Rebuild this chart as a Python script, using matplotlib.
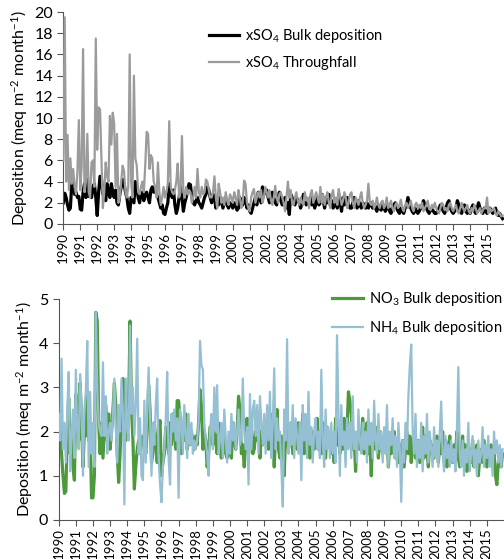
import matplotlib
matplotlib.use('Agg')
import matplotlib.pyplot as plt
import numpy as np

plt.rcParams['font.family'] = ['Lato', 'DejaVu Sans']
plt.rcParams['mathtext.default'] = 'regular'

# monthly values, Jan 1990 - Dec 2015
so4_bulk = [
    2.0, 2.9, 2.5, 1.8, 1.3, 1.5, 3.8, 4.2, 2.8, 3.0, 2.5, 2.6,
    1.4, 1.3, 3.0, 3.8, 2.5, 4.2, 2.6, 3.0, 2.5, 3.5, 3.8, 2.5,
    0.8, 3.0, 4.5, 4.3, 2.8, 3.5, 2.2, 3.8, 3.0, 2.5, 3.8, 3.0,
    2.5, 3.2, 2.0, 1.8, 2.8, 3.5, 4.2, 3.8, 3.0, 2.5, 1.5, 1.0,
    2.5, 2.2, 2.0, 4.0, 3.5, 2.5, 2.0, 2.8, 3.0, 2.2, 2.8, 3.0,
    2.5, 2.0, 3.2, 3.5, 3.0, 3.5, 2.8, 2.5, 2.0, 1.5, 1.8, 1.0,
    0.9, 1.5, 2.0, 3.8, 3.0, 2.5, 3.2, 1.8, 1.0, 1.5, 2.5, 3.5,
    2.5, 1.2, 2.0, 2.5, 3.2, 3.8, 3.7, 2.5, 2.0, 1.8, 2.2, 2.5,
    2.0, 1.8, 1.5, 2.0, 2.5, 2.8, 3.5, 3.2, 2.5, 2.0, 2.8, 2.5,
    1.5, 2.0, 1.8, 2.5, 2.2, 1.5, 2.0, 2.5, 1.8, 1.5, 2.0, 1.8,
    1.5, 2.0, 1.8, 1.3, 1.5, 2.5, 2.0, 1.8, 2.5, 2.2, 1.5, 1.8,
    1.2, 1.0, 1.5, 2.0, 2.5, 1.8, 3.0, 2.5, 2.0, 3.5, 2.8, 3.0,
    3.2, 2.5, 2.0, 2.8, 3.0, 2.5, 2.0, 1.8, 2.5, 3.0, 2.2, 1.8,
    2.0, 2.5, 1.5, 2.0, 0.9, 2.8, 2.5, 2.0, 1.8, 2.5, 2.2, 2.0,
    1.5, 2.0, 2.8, 2.5, 1.8, 2.2, 2.0, 2.5, 1.8, 2.2, 1.5, 2.0,
    2.5, 1.8, 2.0, 2.8, 2.2, 1.5, 2.5, 2.0, 2.8, 1.8, 2.2, 1.5,
    1.8, 2.2, 1.5, 2.8, 2.0, 1.2, 2.5, 1.8, 2.2, 2.5, 1.8, 1.5,
    1.5, 2.0, 2.5, 1.8, 1.5, 2.2, 1.8, 1.5, 2.0, 1.8, 1.5, 2.0,
    1.5, 1.8, 2.0, 1.5, 1.8, 1.5, 1.2, 1.8, 1.5, 1.3, 1.8, 1.5,
    1.2, 1.5, 1.8, 1.2, 1.0, 1.5, 1.8, 2.0, 1.5, 1.2, 1.0, 1.5,
    1.2, 1.0, 1.5, 1.8, 2.5, 2.0, 1.5, 1.2, 1.0, 1.5, 1.2, 1.0,
    1.2, 1.5, 1.8, 2.2, 1.8, 1.5, 1.2, 1.0, 1.3, 1.5, 1.2, 1.0,
    1.0, 1.2, 1.5, 1.8, 1.5, 1.2, 1.0, 1.5, 2.0, 2.2, 1.5, 1.2,
    1.0, 1.2, 1.5, 2.2, 1.8, 1.2, 1.0, 1.5, 1.8, 1.2, 1.0, 1.3,
    1.0, 1.5, 1.8, 1.2, 1.0, 1.5, 2.0, 1.5, 1.2, 1.0, 1.5, 1.2,
    1.0, 1.2, 1.5, 1.3, 1.0, 1.2, 1.5, 1.0, 0.8, 1.0, 0.7, 0.5,
]

so4_throughfall = [
    6.0, 19.5, 4.0, 8.4, 3.2, 6.2, 3.8, 5.2, 3.5, 2.8, 5.0, 9.8,
    3.2, 5.5, 16.5, 3.0, 4.0, 8.5, 3.0, 2.5, 5.8, 6.0, 3.5, 17.5,
    7.0, 11.0, 10.8, 6.0, 1.5, 3.0, 5.8, 4.5, 4.0, 10.2, 7.5, 10.5,
    9.5, 3.5, 8.5, 2.0, 2.5, 4.0, 5.5, 5.0, 3.0, 2.5, 3.5, 16.0,
    4.0, 2.5, 14.0, 6.2, 5.5, 3.0, 2.8, 3.5, 4.0, 3.0, 5.5, 8.7,
    8.5, 5.2, 6.5, 6.2, 4.0, 3.5, 2.5, 5.8, 3.0, 1.8, 2.5, 3.5,
    2.5, 3.0, 3.8, 9.7, 3.5, 3.0, 2.8, 3.2, 4.0, 5.7, 2.5, 3.0,
    8.3, 3.0, 2.5, 3.5, 2.8, 3.2, 3.0, 2.0, 2.5, 3.5, 2.5, 5.2,
    3.0, 2.5, 3.5, 2.8, 3.0, 4.2, 4.0, 3.2, 2.5, 2.5, 3.0, 4.5,
    2.5, 1.5, 3.8, 3.0, 2.0, 2.5, 1.8, 3.0, 2.2, 1.8, 2.8, 2.5,
    2.0, 3.0, 2.5, 1.8, 3.2, 2.5, 1.5, 2.0, 4.1, 3.8, 2.0, 1.5,
    1.2, 2.5, 3.0, 3.3, 2.0, 2.5, 3.0, 2.5, 3.2, 2.0, 2.5, 3.5,
    3.0, 2.5, 3.2, 2.2, 1.8, 2.5, 3.6, 2.5, 2.0, 2.8, 3.0, 2.5,
    2.0, 1.2, 2.5, 4.0, 2.5, 3.2, 2.0, 1.8, 2.5, 3.0, 2.2, 1.8,
    2.5, 2.0, 1.8, 3.0, 2.2, 2.5, 1.5, 2.8, 3.2, 2.0, 2.5, 3.0,
    2.5, 2.0, 3.5, 2.0, 2.8, 1.8, 2.5, 3.0, 2.0, 1.5, 2.8, 3.2,
    2.0, 2.5, 1.8, 3.3, 2.5, 1.8, 2.2, 3.0, 2.5, 1.5, 2.0, 2.8,
    3.0, 2.0, 1.5, 2.5, 2.2, 1.8, 2.5, 3.0, 2.0, 1.5, 1.8, 2.2,
    3.8, 2.0, 1.8, 2.2, 1.5, 1.8, 2.5, 1.8, 1.5, 2.0, 2.2, 1.5,
    1.8, 2.5, 1.5, 1.8, 2.2, 1.5, 1.2, 1.8, 2.0, 1.5, 1.8, 2.3,
    1.5, 1.2, 1.8, 2.0, 1.5, 1.8, 2.2, 1.5, 1.2, 1.8, 2.0, 1.5,
    1.8, 1.5, 2.0, 1.2, 1.5, 1.8, 2.2, 1.5, 1.3, 1.8, 1.5, 2.0,
    1.5, 1.2, 1.0, 1.5, 2.0, 1.8, 1.3, 1.5, 1.2, 1.8, 2.0, 1.5,
    1.2, 1.5, 1.8, 1.2, 1.0, 1.5, 2.0, 1.5, 1.2, 1.5, 1.8, 1.2,
    1.0, 1.5, 1.2, 1.8, 1.5, 1.0, 1.2, 1.5, 1.0, 1.3, 1.5, 1.5,
    2.5, 1.0, 1.5, 1.2, 1.3, 1.5, 1.0, 0.8, 1.2, 1.0, 0.7, 0.8,
]

no3_bulk = [
    2.45, 2.2, 1.5, 1.0, 0.6, 0.65, 2.0, 2.75, 1.5, 1.9, 1.2, 0.9,
    2.85, 2.5, 1.8, 3.1, 2.2, 1.2, 2.0, 1.9, 2.8, 1.8, 2.1, 0.5,
    0.5, 1.0, 4.7, 4.5, 2.2, 1.5, 2.2, 1.4, 2.0, 2.6, 1.8, 2.4,
    1.6, 2.0, 2.5, 3.1, 2.6, 1.5, 0.85, 1.5, 2.5, 3.2, 2.2, 1.8,
    2.3, 2.6, 4.5, 2.5, 1.8, 0.7, 1.2, 1.6, 1.8, 1.5, 1.7, 1.9,
    1.8, 1.5, 2.0, 3.05, 2.5, 1.3, 1.5, 2.2, 1.8, 1.3, 2.0, 2.25,
    1.0, 1.3, 1.5, 2.1, 1.8, 1.5, 2.2, 1.7, 2.4, 2.0, 1.6, 2.7,
    2.7, 2.3, 1.5, 2.1, 1.8, 2.4, 1.6, 1.9, 1.7, 2.0, 1.8, 1.6,
    1.9, 1.7, 2.2, 2.95, 2.6, 1.6, 2.0, 1.8, 1.2, 1.5, 2.1, 1.9,
    1.7, 2.0, 1.8, 1.5, 2.2, 1.6, 1.4, 2.0, 1.7, 1.5, 1.4, 1.6,
    1.5, 1.4, 2.2, 1.8, 1.6, 2.0, 2.8, 2.5, 1.5, 1.7, 1.2, 1.8,
    2.3, 1.5, 1.8, 2.2, 1.5, 1.6, 2.0, 1.8, 2.2, 1.4, 2.0, 1.7,
    2.1, 1.8, 2.3, 1.6, 2.4, 1.9, 2.4, 1.2, 2.0, 2.5, 1.6, 1.4,
    1.9, 1.7, 1.0, 2.0, 2.3, 1.6, 1.9, 2.2, 1.5, 1.8, 2.1, 1.6,
    2.2, 1.6, 1.8, 2.4, 1.5, 1.9, 1.7, 2.1, 1.4, 1.8, 2.0, 1.6,
    1.9, 2.3, 1.6, 2.0, 1.5, 2.2, 1.8, 1.4, 2.1, 1.7, 1.9, 1.5,
    1.8, 1.3, 2.3, 1.7, 1.9, 1.5, 2.0, 1.6, 2.3, 1.8, 2.0, 2.9,
    2.7, 2.4, 1.6, 1.9, 1.1, 1.8, 2.0, 1.6, 1.8, 2.3, 1.5, 1.9,
    2.2, 1.5, 1.8, 1.0, 2.0, 1.6, 2.1, 1.8, 1.4, 2.0, 1.7, 1.5,
    1.9, 1.6, 2.0, 1.2, 1.8, 1.5, 1.7, 2.0, 1.4, 1.8, 1.3, 1.7,
    1.5, 1.8, 1.2, 1.6, 2.0, 1.5, 1.9, 1.3, 1.7, 2.0, 1.4, 1.6,
    1.8, 1.3, 1.6, 2.1, 1.4, 1.9, 1.6, 1.2, 1.8, 1.5, 1.7, 1.4,
    1.6, 1.9, 1.3, 1.7, 1.5, 2.0, 1.4, 1.8, 1.2, 1.6, 1.9, 1.5,
    1.3, 1.7, 1.5, 2.0, 1.4, 1.2, 1.6, 1.9, 1.3, 1.7, 1.1, 1.5,
    1.6, 1.3, 1.8, 1.2, 1.5, 1.7, 1.0, 1.4, 1.6, 1.3, 1.8, 1.5,
    1.2, 1.6, 1.4, 1.7, 1.3, 1.5, 1.0, 0.8, 1.3, 1.6, 1.2, 1.5,
]

nh4_bulk = [
    2.4, 1.8, 3.65, 1.6, 2.2, 1.3, 2.5, 3.35, 1.1, 1.9, 2.5, 1.4,
    3.4, 2.0, 1.6, 3.3, 2.6, 1.0, 2.5, 2.9, 4.05, 1.2, 2.9, 1.5,
    2.2, 1.2, 4.7, 3.0, 2.2, 2.0, 1.9, 3.57, 1.9, 2.8, 1.5, 2.0,
    2.2, 1.8, 2.4, 3.2, 2.1, 1.3, 2.6, 2.0, 3.2, 2.4, 0.35, 3.2,
    2.1, 1.8, 4.4, 2.4, 3.0, 1.9, 2.6, 4.1, 1.5, 2.3, 1.0, 0.9,
    2.7, 1.3, 2.5, 3.45, 2.4, 1.0, 2.2, 1.7, 2.6, 3.2, 1.4, 0.8,
    0.4, 1.2, 1.6, 2.3, 3.35, 1.4, 0.8, 2.4, 2.0, 2.5, 1.8, 2.3,
    0.5, 2.5, 2.3, 1.5, 2.6, 2.0, 1.4, 2.4, 1.7, 2.2, 1.5, 1.8,
    1.6, 1.8, 2.2, 4.05, 3.5, 3.4, 2.2, 1.8, 1.5, 1.0, 2.0, 2.4,
    1.6, 3.0, 2.0, 3.05, 1.5, 1.8, 2.2, 1.4, 2.5, 1.9, 1.3, 2.0,
    1.5, 2.4, 1.8, 2.2, 1.6, 2.0, 2.5, 1.7, 1.9, 3.2, 2.0, 1.6,
    2.1, 0.8, 2.85, 1.6, 2.5, 2.7, 1.9, 2.6, 1.5, 2.8, 2.2, 1.7,
    2.4, 1.5, 2.6, 1.8, 2.9, 1.4, 2.2, 3.43, 1.6, 2.3, 1.8, 2.0,
    1.2, 0.3, 2.5, 1.8, 4.09, 1.5, 2.2, 1.7, 2.6, 1.4, 2.3, 1.9,
    1.5, 2.2, 0.9, 2.6, 1.8, 2.4, 1.4, 2.9, 1.7, 2.1, 1.3, 2.0,
    2.3, 1.6, 2.0, 1.4, 3.4, 1.8, 1.2, 2.5, 1.6, 2.1, 1.4, 2.2,
    1.5, 2.0, 1.3, 4.18, 2.4, 1.0, 2.6, 1.7, 2.0, 1.2, 2.3, 1.6,
    2.2, 1.4, 2.8, 1.6, 2.0, 1.3, 2.5, 1.8, 1.5, 2.2, 1.6, 2.0,
    1.3, 2.5, 1.7, 2.2, 1.4, 2.7, 1.8, 1.5, 2.4, 1.6, 2.0, 1.3,
    2.1, 1.5, 2.6, 1.2, 2.0, 1.7, 2.3, 1.4, 1.9, 1.2, 2.2, 1.6,
    0.41, 1.8, 1.3, 2.2, 1.6, 2.8, 3.5, 3.97, 2.0, 1.5, 2.4, 1.2,
    1.8, 1.4, 2.2, 1.1, 1.9, 1.5, 2.4, 1.3, 2.0, 1.6, 1.2, 2.1,
    1.4, 1.8, 1.2, 2.0, 2.68, 1.5, 1.1, 1.9, 1.4, 1.7, 1.2, 1.8,
    1.3, 1.6, 1.1, 2.0, 3.46, 1.5, 1.2, 1.8, 1.0, 1.6, 1.3, 2.2,
    1.1, 1.5, 1.9, 1.2, 1.6, 1.0, 1.8, 1.3, 1.5, 2.1, 1.2, 1.7,
    1.4, 1.9, 1.2, 1.6, 1.0, 2.0, 1.5, 1.8, 1.3, 1.7, 1.2, 1.6,
]

years = list(range(1990, 2016))
t = 1990 + np.arange(len(so4_bulk)) / 12.0

fig = plt.figure(figsize=(5.04, 5.59), dpi=100, facecolor='white')
ax1 = fig.add_axes([0.1256, 0.5993, 0.8744, 0.3792])
ax2 = fig.add_axes([0.1165, 0.0698, 0.8835, 0.3953])

ylab = 'Deposition (meq m$^{-2}$ month$^{-1}$)'

ax1.plot(t, so4_bulk, color='black', lw=2.3, label='xSO$_4$ Bulk deposition', zorder=2)
ax1.plot(t, so4_throughfall, color='#9b9b9b', lw=1.6, label='xSO$_4$ Throughfall', zorder=3)
ax1.set_ylim(0, 20)
ax1.set_yticks(range(0, 21, 2))

ax2.plot(t, no3_bulk, color='#4c9a3c', lw=2.3, label='NO$_3$ Bulk deposition', zorder=2)
ax2.plot(t, nh4_bulk, color='#95bfd3', lw=1.6, label='NH$_4$ Bulk deposition', zorder=3)
ax2.set_ylim(0, 5)
ax2.set_yticks(range(0, 6))

for ax in (ax1, ax2):
    ax.set_xlim(1990, 2016)
    ax.set_xticks(years)
    ax.set_xticklabels([str(y) for y in years], rotation=90, fontsize=9.5)
    ax.tick_params(axis='y', labelsize=11.5, length=4, width=0.8, color='#555555')
    ax.tick_params(axis='x', length=4, width=0.8, color='#555555', pad=2)
    ax.spines['top'].set_visible(False)
    ax.spines['right'].set_visible(False)
    ax.spines['left'].set_color('#555555')
    ax.spines['bottom'].set_color('#555555')
    ax.set_ylabel(ylab, fontsize=11.5, labelpad=3)

ax1.legend(loc='upper left', bbox_to_anchor=(0.30, 0.99), frameon=False, fontsize=10.5,
           handlelength=2.1, handletextpad=0.4, labelspacing=0.6)
ax2.legend(loc='upper left', bbox_to_anchor=(0.585, 1.10), frameon=False, fontsize=10.5,
           handlelength=2.1, handletextpad=0.4, labelspacing=0.75)

fig.savefig('out.png', dpi=100, facecolor='white')
